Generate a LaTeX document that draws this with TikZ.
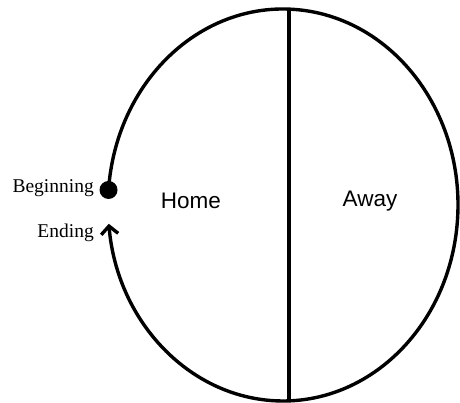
\documentclass[tikz,border=0pt]{standalone}
\usepackage{fontspec}
\setmainfont{Liberation Serif}
\setsansfont{Liberation Sans}
\usetikzlibrary{arrows.meta,calc}
\begin{document}
\begin{tikzpicture}[x=1pt,y=1pt,
  stroke/.style={line width=3.4pt},
  serifl/.style={font=\fontsize{19.5}{22}\selectfont\rmfamily,inner sep=0pt},
  sansl/.style={font=\fontsize{22.5}{26}\selectfont\sffamily,inner sep=0pt}]
\useasboundingbox (0,0) rectangle (460,403);
\coordinate (c) at (283,198);
\node[circle,fill=black,inner sep=0pt,minimum size=18pt] (dot) at ($(c)+(175.6:175 and 196)$) {};
\coordinate (endp) at ($(c)+(-174.5:175 and 196)$);
\draw[stroke,-{Straight Barb[length=8pt,width=17pt,line width=3.4pt]}] (dot.center) arc[start angle=175.6,end angle=-174.5,x radius=175,y radius=196];
\coordinate (top) at (289,394);
\coordinate (bot) at (289,3);
\draw[stroke] (top) -- (bot);
\node[serifl,anchor=east] (beg) at (94,215) {Beginning};
\node[serifl,anchor=east] (end) at (94,170) {Ending};
\node[sansl] (home) at (191,202) {Home};
\node[sansl] (away) at (370,202) {Away};
\end{tikzpicture}
\end{document}
